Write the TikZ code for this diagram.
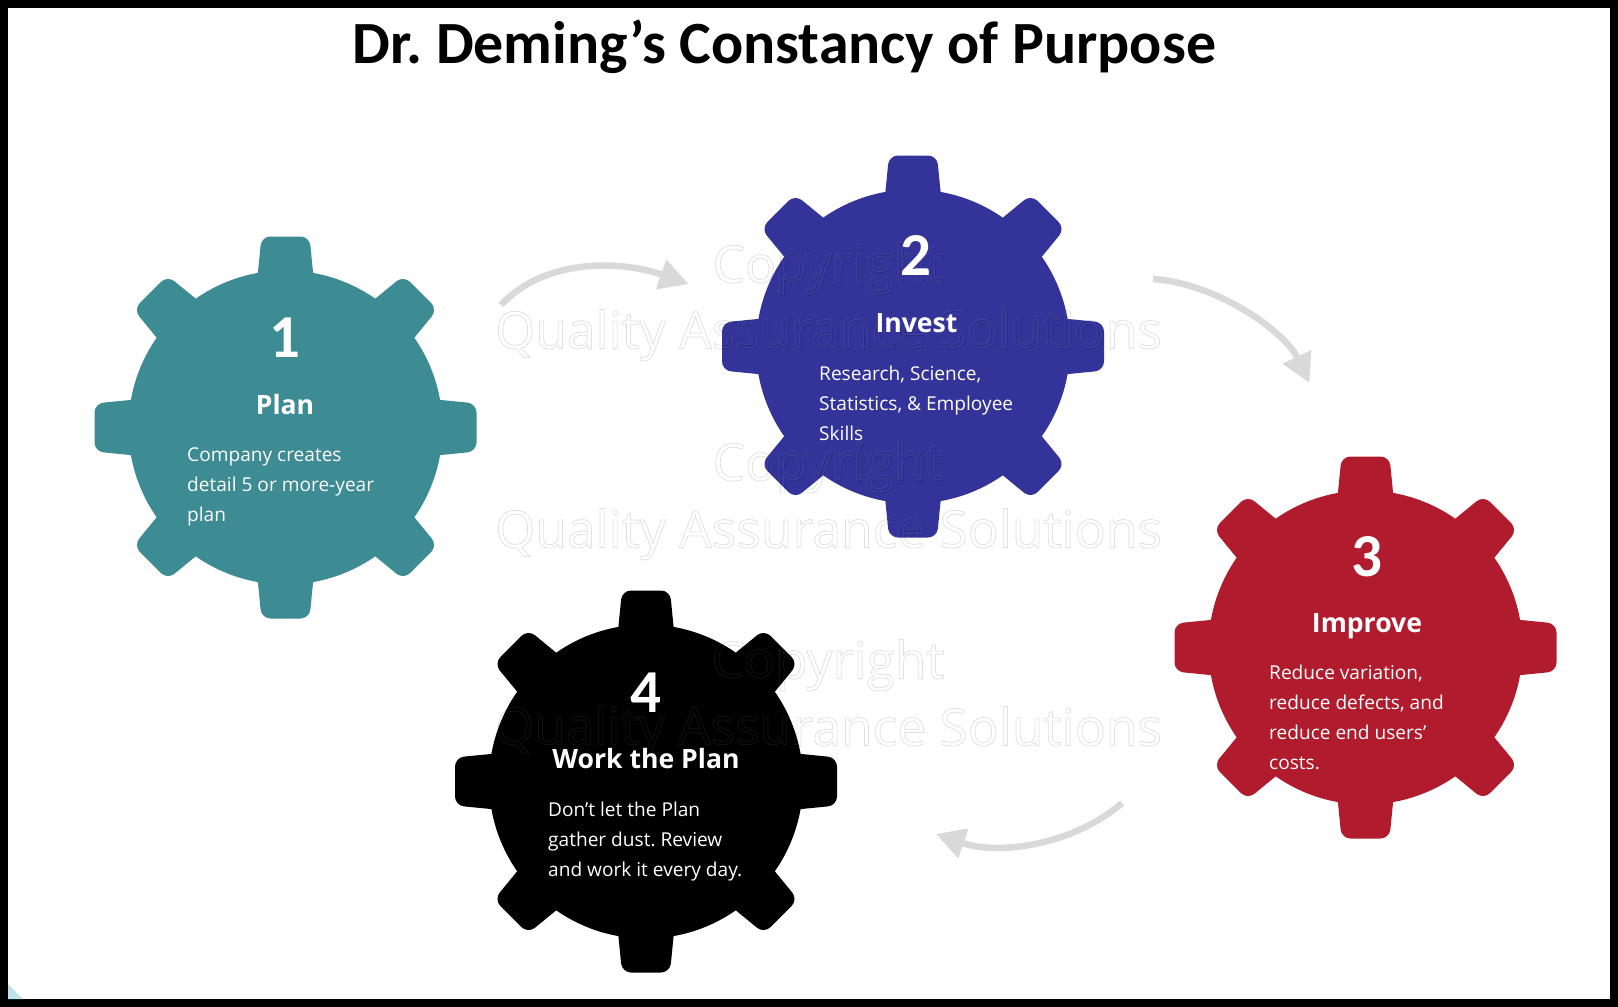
\documentclass[tikz,border=0pt]{standalone}
\usepackage{fontspec}
\setmainfont{Open Sans}
\newfontfamily\titlefont{Carlito}
\usetikzlibrary{arrows.meta}
\definecolor{gearteal}{HTML}{3D8B93}
\definecolor{gearblue}{HTML}{333399}
\definecolor{gearred}{HTML}{B01C2E}
\definecolor{flowgray}{HTML}{D9D9D9}
\definecolor{cornertint}{HTML}{BFE3E8}
\frenchspacing
% Outlined (stroked, unfilled) text for the embossed copyright marks
\newcommand{\outlined}[1]{\special{pdf:code 1 Tr 0.8 w}#1\special{pdf:code 0 Tr}}
\tikzset{
  x=1pt, y=-1pt,
  pics/gear/.style={code={
    \fill[#1] (0,0) circle[radius=157];
    \foreach \a in {0,45,...,315}
      \fill[#1, rotate=\a, rounded corners=9]
        (120,-31) -- (191,-24) -- (191,24) -- (120,31) -- cycle;
  }},
  flow/.style={draw=flowgray, line width=6.5pt,
    -{Triangle[length=29pt,width=30pt,fill=flowgray]}},
  digit/.style={anchor=base, inner sep=0pt, text=white,
    font=\titlefont\bfseries\fontsize{61}{61}\selectfont},
  heading/.style={anchor=base, inner sep=0pt, text=white,
    font=\bfseries\fontsize{26.6}{30}\selectfont},
  body/.style={anchor=north west, inner sep=0pt, align=left, text=white,
    font=\fontsize{19.1}{30}\selectfont},
  wmarkdark/.style={anchor=base, inner sep=0pt, text=black, opacity=0.12,
    font=\fontsize{51.5}{50}\selectfont},
  wmarklight/.style={anchor=base, inner sep=0pt, text=white, opacity=0.07,
    font=\fontsize{51.5}{50}\selectfont}
}
\newcommand{\firstline}{\rule{0pt}{20pt}}
\begin{document}
\begin{tikzpicture}
  \useasboundingbox (0,0) rectangle (1618,1007);
  % Frame and page
  \fill[black] (0,0) rectangle (1618,1007);
  \fill[white] (8,8) rectangle (1610,999);
  \fill[cornertint] (8,984) -- (23,999) -- (8,999) -- cycle;

  % Title
  \node[anchor=base, inner sep=0pt, text=black,
        font=\titlefont\bfseries\fontsize{59.9}{62}\selectfont]
    (title) at (784.5,63) {Dr. Deming’s Constancy of Purpose};

  % Gears
  \pic at (285.5,427.5) {gear=gearteal};
  \pic at (913,346.5) {gear=gearblue};
  \pic at (1365.5,647.5) {gear=gearred};
  \pic at (646,781.5) {gear=black};

  % Flow arrows between the gears
  \coordinate (a1s) at (501,305);
  \coordinate (a1e) at (688.5,284);
  \coordinate (a2s) at (1153,279);
  \coordinate (a2e) at (1309.5,383);
  \coordinate (a3s) at (1122,803);
  \coordinate (a3e) at (936,834);
  \draw[flow] (a1s) .. controls (545,258) and (620,260) .. (a1e);
  \draw[flow] (a2s) .. controls (1215,283) and (1284,330) .. (a2e);
  \draw[flow] (a3s) .. controls (1075,844) and (1000,856) .. (a3e);

  % Embossed copyright marks: a dark and a light outline, slightly apart
  \foreach \n/\yc/\yq in {1/282/348, 2/480/547, 3/678/745} {
    \node[wmarkdark] (copy\n) at (828.6,\yc+0.6) {\outlined{Copyright}};
    \node[wmarkdark] (qas\n) at (828.6,\yq+0.6) {\outlined{Quality Assurance Solutions}};
    \node[wmarklight] (copyhi\n) at (827.4,\yc-0.6) {\outlined{Copyright}};
    \node[wmarklight] (qashi\n) at (827.4,\yq-0.6) {\outlined{Quality Assurance Solutions}};
  }

  % Gear 1
  \node[digit] (n1) at (285,357) {1};
  \node[heading] (h1) at (285,414) {Plan};
  \node[body] (b1) at (187,441) {\firstline Company creates\\detail 5 or more-year\\plan};

  % Gear 2
  \node[digit] (n2) at (916,275) {2};
  \node[heading] (h2) at (916.5,332) {Invest};
  \node[body] (b2) at (819,360) {\firstline Research, Science,\\Statistics, \& Employee\\Skills};

  % Gear 3
  \node[digit] (n3) at (1367,576) {3};
  \node[heading] (h3) at (1367,632.5) {Improve};
  \node[body] (b3) at (1269,659) {\firstline Reduce variation,\\reduce defects, and\\reduce end users\symbol{39}\\costs.};

  % Gear 4
  \node[digit] (n4) at (646,712) {4};
  \node[heading] (h4) at (646,768) {Work the Plan};
  \node[body] (b4) at (548,796) {\firstline Don’t let the Plan\\gather dust. Review\\and work it every day.};
\end{tikzpicture}
\end{document}
